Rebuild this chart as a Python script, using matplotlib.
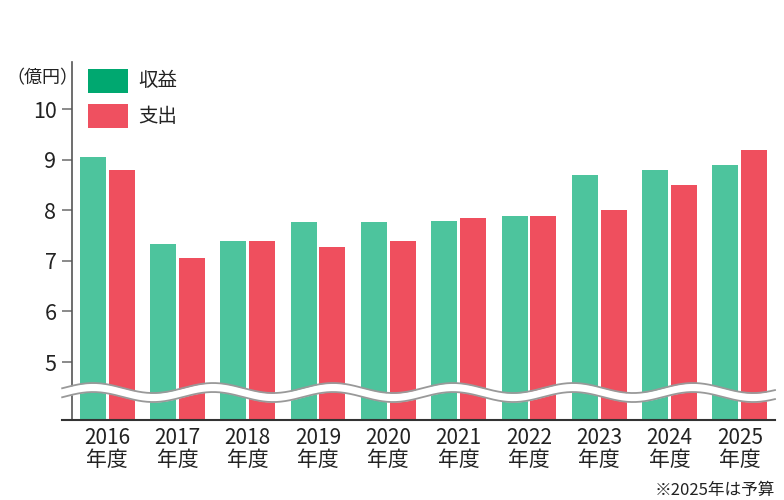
import numpy as np
import matplotlib
matplotlib.use("Agg")
import matplotlib.pyplot as plt
from matplotlib.patches import Rectangle

plt.rcParams['font.family'] = ['Noto Sans CJK JP', 'DejaVu Sans']

years = ['2016', '2017', '2018', '2019', '2020', '2021', '2022', '2023', '2024', '2025']
revenue = [9.06, 7.34, 7.40, 7.77, 7.77, 7.79, 7.89, 8.69, 8.80, 8.89]
expense = [8.80, 7.05, 7.40, 7.27, 7.40, 7.84, 7.89, 8.00, 8.50, 9.20]
yticks = [5, 6, 7, 8, 9, 10]
series_names = ['収益', '支出']
unit_label = '（億円）'
note = '※2025年は予算'

bar_green = '#4dc49d'
bar_red = '#ef4f5e'
leg_green = '#00a870'
leg_red = '#ef5060'

W, H = 784, 500
fig = plt.figure(figsize=(W/100, H/100), dpi=100)
ax = fig.add_axes([72/W, 1-420/H, (775-72)/W, (420-62)/H])

x = np.arange(len(years))
w = 0.37
off = 0.205
ax.bar(x - off, revenue, width=w, color=bar_green, zorder=2)
ax.bar(x + off, expense, width=w, color=bar_red, zorder=2)

ymin, ymax = 3.854, 10.93
ax.set_ylim(ymin, ymax)
ax.set_xlim(-0.5, 9.5)

ax.set_yticks(yticks)
ax.set_yticklabels([str(v) for v in yticks], fontsize=15.5, color='#222')
ax.set_xticks(x)
ax.set_xticklabels([f'{y}\n年度' for y in years], fontsize=15, color='#222', linespacing=1.0)
ax.tick_params(axis='y', length=7.2, width=1.2, color='#777', pad=4)
ax.tick_params(axis='x', length=0, pad=5)

for s in ['top', 'right', 'bottom']:
    ax.spines[s].set_visible(False)
ax.spines['left'].set_color('#555')
ax.spines['left'].set_linewidth(1.2)

# bottom baseline extending left of the spine
ax.plot([-0.64, 9.5], [ymin, ymin], color='#333', lw=1.5, clip_on=False, zorder=5)

# axis break wave
wx = np.linspace(-0.64, 9.5, 800)
P = 1.707
center = 4.397
A = 0.099
half = 0.089
wy = center + A * np.cos(2 * np.pi * (wx + 0.2) / P)
ax.fill_between(wx, wy - half, wy + half, color='white', zorder=3, clip_on=False, lw=0)
ax.plot(wx, wy + half, color='#999', lw=1.3, zorder=4, clip_on=False)
ax.plot(wx, wy - half, color='#999', lw=1.3, zorder=4, clip_on=False)

# legend (manual)
for (top, col, name) in [(69, leg_green, series_names[0]), (104, leg_red, series_names[1])]:
    fig.patches.append(Rectangle((88/W, 1-(top+24)/H), 40/W, 24/H, transform=fig.transFigure,
                                 facecolor=col, edgecolor='none'))
    fig.text(138/W, 1-(top+12)/H, name, fontsize=14, va='center', ha='left', color='#222')

fig.text(6/W, 1-78/H, unit_label, fontsize=13, va='center', ha='left', color='#222')
fig.text(775/W, 1-490/H, note, fontsize=12, va='center', ha='right', color='#222')

fig.savefig('out.png', dpi=100)
